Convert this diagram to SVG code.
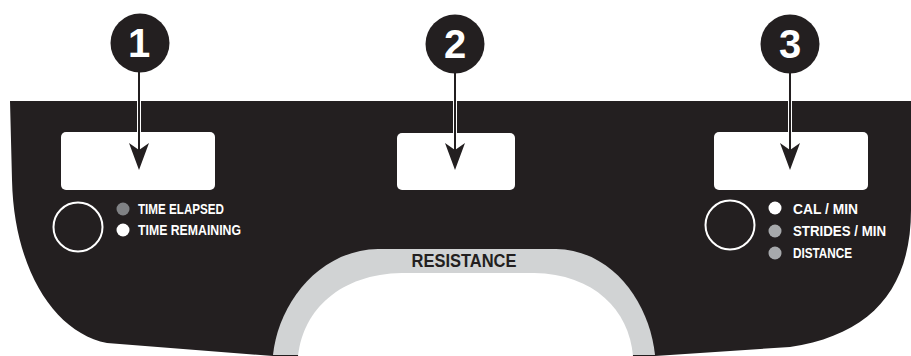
<svg xmlns="http://www.w3.org/2000/svg" width="911" height="356" viewBox="0 0 911 356">
<style>
.panel{fill:#231f20}
.display{fill:#ffffff}
.badge{fill:#231f20}
.num{font-family:"Liberation Sans",Arial,sans-serif;font-weight:bold;font-size:40px;fill:#ffffff;text-anchor:middle}
.lbl{font-family:"Liberation Sans",Arial,sans-serif;font-weight:bold;font-size:15px;fill:#ffffff}
.ring{fill:none;stroke:#ffffff;stroke-width:2}
.halo{stroke:#ffffff;stroke-width:4;fill:none}
.line{stroke:#231f20;stroke-width:2;fill:none}
.head{fill:#231f20}
</style>
<g id="panel">
<path class="panel" d="M10,101 H911 V210 C911,290 870,335 790,347 L655,356 L273,356 L107,343 C55,333 14,270 12,180 Z"/>
<path id="band" fill="#d1d3d4" d="M273,355 C278,305 318,250 378,249 L556,249 C614,250 650,305 655,355 Z"/>
<path fill="#ffffff" d="M298,356 C303,310 340,274 402,273 L534,273 C594,274 629,310 633,356 Z"/>
<text x="464" y="267" font-family="'Liberation Sans',Arial,sans-serif" font-weight="bold" font-size="18.5" fill="#231f20" text-anchor="middle" textLength="105" lengthAdjust="spacingAndGlyphs">RESISTANCE</text>
</g>
<g id="display1"><rect class="display" x="61" y="132" width="154" height="58" rx="5"/></g>
<g id="display2"><rect class="display" x="397" y="133" width="118" height="57" rx="5"/></g>
<g id="display3"><rect class="display" x="714" y="132" width="154" height="58" rx="5"/></g>
<g id="controls-left">
<circle class="ring" cx="78" cy="227" r="24.5"/>
<circle cx="123" cy="209" r="6.5" fill="#808285"/>
<circle cx="123" cy="230" r="6.5" fill="#ffffff"/>
<text class="lbl" x="138" y="214" textLength="86" lengthAdjust="spacingAndGlyphs">TIME ELAPSED</text>
<text class="lbl" x="138" y="235" textLength="103" lengthAdjust="spacingAndGlyphs">TIME REMAINING</text>
</g>
<g id="controls-right">
<circle class="ring" cx="730" cy="225" r="24.5"/>
<circle cx="775" cy="208" r="6.5" fill="#ffffff"/>
<circle cx="775" cy="231" r="6.5" fill="#a7a9ac"/>
<circle cx="775" cy="253" r="6.5" fill="#a7a9ac"/>
<text class="lbl" x="793" y="213.5" textLength="65" lengthAdjust="spacingAndGlyphs">CAL / MIN</text>
<text class="lbl" x="793" y="236" textLength="93" lengthAdjust="spacingAndGlyphs">STRIDES / MIN</text>
<text class="lbl" x="793" y="258" textLength="59" lengthAdjust="spacingAndGlyphs">DISTANCE</text>
</g>
<g id="callout1">
<circle class="badge" cx="140" cy="43" r="29.5"/>
<text class="num" x="139" y="57">1</text>
</g>
<g id="callout2">
<circle class="badge" cx="455" cy="44" r="29.5"/>
<text class="num" x="455" y="58">2</text>
</g>
<g id="callout3">
<circle class="badge" cx="790" cy="44" r="29.5"/>
<text class="num" x="790" y="58">3</text>
</g>
<g id="connectors">
<path class="halo" d="M139,101 V132"/>
<path class="halo" d="M455,101 V133"/>
<path class="halo" d="M790,101 V132"/>
<path class="line" d="M139,72 V152"/>
<path class="line" d="M455,73 V152"/>
<path class="line" d="M790,73 V152"/>
<path class="head" d="M139,170 L129,143 L139,150 L149,143 Z"/>
<path class="head" d="M455,170 L445,143 L455,150 L465,143 Z"/>
<path class="head" d="M790,170 L780,143 L790,150 L800,143 Z"/>
</g>
</svg>
